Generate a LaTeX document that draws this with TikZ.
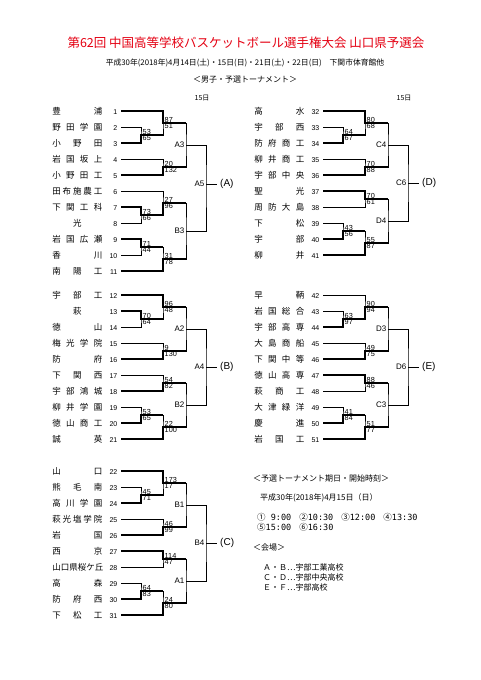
\documentclass[tikz,border=0pt]{standalone}
\usepackage{fontspec}
\setmainfont{Liberation Sans}
\newfontfamily\jp{Noto Sans CJK JP}
\newfontfamily\digits{DejaVu Sans Mono}
\usepackage{tikz}
\usetikzlibrary{positioning,calc}
\definecolor{titlered}{RGB}{228,0,18}

\newcommand{\tn}[2]{\makebox[50pt][s]{\jp\fontsize{8.5}{9}\selectfont #1}\makebox[15pt][r]{#2}}
\newcommand{\scores}[3]{\node[score, above right] (#1u) at (#1) {#2}; \node[score, below right] (#1d) at (#1) {#3};}

\begin{document}
\begin{tikzpicture}[
    x=1pt, y=-1pt,
    team/.style={anchor=east, inner xsep=3.5pt, inner ysep=0pt, font=\fontsize{7}{8}\selectfont},
    score/.style={inner xsep=1.5pt, inner ysep=0.6pt, font=\fontsize{7.3}{7}\selectfont},
    rnd/.style={left, inner xsep=1.5pt, inner ysep=0pt, font=\fontsize{8}{8}\selectfont},
    pool/.style={right, inner xsep=3pt, inner ysep=0pt, font=\fontsize{10}{10}\selectfont},
    note/.style={anchor=west, inner sep=0pt, font=\jp\fontsize{8}{9}\selectfont},
    line/.style={line width=0.8pt},
    win/.style={line width=2pt}
]
\useasboundingbox (0,0) rectangle (481,680);

% Heading
\node[font=\jp\fontsize{12.5}{14}\selectfont, text=titlered] (title) at (246,43) {第62回 中国高等学校バスケットボール選手権大会 山口県予選会};
\node[font=\jp\fontsize{7.8}{9}\selectfont] (dates) at (245,63) {平成30年(2018年)4月14日(土)・15日(日)・21日(土)・22日(日)　下関市体育館他};
\node[font=\jp\fontsize{8}{9}\selectfont] (sect) at (245,80) {＜男子・予選トーナメント＞};
\node[font=\jp\fontsize{7}{8}\selectfont] (dayL) at (202,98) {15日};
\node[font=\jp\fontsize{7}{8}\selectfont] (dayR) at (404,98) {15日};

% Teams, left
\node[team] (L1)  at (121,111) {\tn{豊 浦}{1}};
\node[team] (L2)  at (121,127) {\tn{野 田 学 園}{2}};
\node[team] (L3)  at (121,143) {\tn{小 野 田}{3}};
\node[team] (L4)  at (121,159) {\tn{岩 国 坂 上}{4}};
\node[team] (L5)  at (121,175) {\tn{小 野 田 工}{5}};
\node[team] (L6)  at (121,191) {\tn{田 布 施 農 工}{6}};
\node[team] (L7)  at (121,207) {\tn{下 関 工 科}{7}};
\node[team] (L8)  at (121,223) {\tn{\hfil 光\hfil}{8}};
\node[team] (L9)  at (121,239) {\tn{岩 国 広 瀬}{9}};
\node[team] (L10) at (121,255) {\tn{香 川}{10}};
\node[team] (L11) at (121,271) {\tn{南 陽 工}{11}};
\node[team] (L12) at (121,295) {\tn{宇 部 工}{12}};
\node[team] (L13) at (121,311) {\tn{\hfil 萩\hfil}{13}};
\node[team] (L14) at (121,327) {\tn{徳 山}{14}};
\node[team] (L15) at (121,343) {\tn{梅 光 学 院}{15}};
\node[team] (L16) at (121,359) {\tn{防 府}{16}};
\node[team] (L17) at (121,375) {\tn{下 関 西}{17}};
\node[team] (L18) at (121,391) {\tn{宇 部 鴻 城}{18}};
\node[team] (L19) at (121,407) {\tn{柳 井 学 園}{19}};
\node[team] (L20) at (121,423) {\tn{徳 山 商 工}{20}};
\node[team] (L21) at (121,439) {\tn{誠 英}{21}};
\node[team] (L22) at (121,471) {\tn{山 口}{22}};
\node[team] (L23) at (121,487) {\tn{熊 毛 南}{23}};
\node[team] (L24) at (121,503) {\tn{高 川 学 園}{24}};
\node[team] (L25) at (121,519) {\tn{萩 光 塩 学 院}{25}};
\node[team] (L26) at (121,535) {\tn{岩 国}{26}};
\node[team] (L27) at (121,551) {\tn{西 京}{27}};
\node[team] (L28) at (121,567) {\tn{山口県桜ケ丘}{28}};
\node[team] (L29) at (121,583) {\tn{高 森}{29}};
\node[team] (L30) at (121,599) {\tn{防 府 西}{30}};
\node[team] (L31) at (121,615) {\tn{下 松 工}{31}};

% Teams, right
\node[team] (R32) at (323,111) {\tn{高 水}{32}};
\node[team] (R33) at (323,127) {\tn{宇 部 西}{33}};
\node[team] (R34) at (323,143) {\tn{防 府 商 工}{34}};
\node[team] (R35) at (323,159) {\tn{柳 井 商 工}{35}};
\node[team] (R36) at (323,175) {\tn{宇 部 中 央}{36}};
\node[team] (R37) at (323,191) {\tn{聖 光}{37}};
\node[team] (R38) at (323,207) {\tn{周 防 大 島}{38}};
\node[team] (R39) at (323,223) {\tn{下 松}{39}};
\node[team] (R40) at (323,239) {\tn{宇 部}{40}};
\node[team] (R41) at (323,255) {\tn{柳 井}{41}};
\node[team] (R42) at (323,295) {\tn{早 鞆}{42}};
\node[team] (R43) at (323,311) {\tn{岩 国 総 合}{43}};
\node[team] (R44) at (323,327) {\tn{宇 部 高 専}{44}};
\node[team] (R45) at (323,343) {\tn{大 島 商 船}{45}};
\node[team] (R46) at (323,359) {\tn{下 関 中 等}{46}};
\node[team] (R47) at (323,375) {\tn{徳 山 高 専}{47}};
\node[team] (R48) at (323,391) {\tn{萩 商 工}{48}};
\node[team] (R49) at (323,407) {\tn{大 津 緑 洋}{49}};
\node[team] (R50) at (323,423) {\tn{慶 進}{50}};
\node[team] (R51) at (323,439) {\tn{岩 国 工}{51}};

% Bout points
\coordinate (m2)  at (141,135); \coordinate (m1)  at (163,123);
\coordinate (m4)  at (163,167); \coordinate (A3)  at (186,145);
\coordinate (m7)  at (141,215); \coordinate (m6)  at (163,203);
\coordinate (m9)  at (141,247); \coordinate (m11) at (163,259);
\coordinate (B3)  at (186,231); \coordinate (A5)  at (206,184);
\coordinate (m13) at (141,319); \coordinate (m12) at (163,307);
\coordinate (m15) at (163,351); \coordinate (A2)  at (186,329);
\coordinate (m17) at (163,383); \coordinate (m19) at (141,415);
\coordinate (m21) at (163,427); \coordinate (B2)  at (186,405);
\coordinate (A4)  at (206,367);
\coordinate (m23) at (141,495); \coordinate (m22) at (163,483);
\coordinate (m25) at (163,527); \coordinate (B1)  at (186,505);
\coordinate (m27) at (163,559); \coordinate (m29) at (141,591);
\coordinate (m31) at (163,603); \coordinate (A1)  at (186,581);
\coordinate (B4)  at (206,543);
\coordinate (n33) at (343,135); \coordinate (n32) at (365,123);
\coordinate (n35) at (365,167); \coordinate (C4)  at (388,145);
\coordinate (n37) at (365,199); \coordinate (n39) at (343,231);
\coordinate (n41) at (365,243); \coordinate (D4)  at (388,221);
\coordinate (C6)  at (408,183);
\coordinate (n43) at (343,319); \coordinate (n42) at (365,307);
\coordinate (n45) at (365,351); \coordinate (D3)  at (388,329);
\coordinate (n47) at (365,383); \coordinate (n49) at (343,415);
\coordinate (n51) at (365,427); \coordinate (C3)  at (388,405);
\coordinate (D6)  at (408,367);

% Pools
\node[pool] (pA) at (217,184) {(A)};
\node[pool] (pB) at (217,367) {(B)};
\node[pool] (pC) at (217,543) {(C)};
\node[pool] (pD) at (419,183) {(D)};
\node[pool] (pE) at (419,367) {(E)};

% Bracket lines
\draw[line] (L2.east) -| (m2) |- (L3.east);
\draw[line] (L1.east) -| (m1) |- (m2);
\draw[line] (L4.east) -| (m4) |- (L5.east);
\draw[line] (m1) -| (A3) |- (m4);
\draw[line] (L7.east) -| (m7) |- (L8.east);
\draw[line] (L6.east) -| (m6) |- (m7);
\draw[line] (L9.east) -| (m9) |- (L10.east);
\draw[line] (m9) -| (m11) |- (L11.east);
\draw[line] (m6) -| (B3) |- (m11);
\draw[line] (A3) -| (A5) |- (B3);
\draw[line] (A5) -- (pA);

\draw[line] (L13.east) -| (m13) |- (L14.east);
\draw[line] (L12.east) -| (m12) |- (m13);
\draw[line] (L15.east) -| (m15) |- (L16.east);
\draw[line] (m12) -| (A2) |- (m15);
\draw[line] (L17.east) -| (m17) |- (L18.east);
\draw[line] (L19.east) -| (m19) |- (L20.east);
\draw[line] (m19) -| (m21) |- (L21.east);
\draw[line] (m17) -| (B2) |- (m21);
\draw[line] (A2) -| (A4) |- (B2);
\draw[line] (A4) -- (pB);

\draw[line] (L23.east) -| (m23) |- (L24.east);
\draw[line] (L22.east) -| (m22) |- (m23);
\draw[line] (L25.east) -| (m25) |- (L26.east);
\draw[line] (m22) -| (B1) |- (m25);
\draw[line] (L27.east) -| (m27) |- (L28.east);
\draw[line] (L29.east) -| (m29) |- (L30.east);
\draw[line] (m29) -| (m31) |- (L31.east);
\draw[line] (m27) -| (A1) |- (m31);
\draw[line] (B1) -| (B4) |- (A1);
\draw[line] (B4) -- (pC);

\draw[line] (R33.east) -| (n33) |- (R34.east);
\draw[line] (R32.east) -| (n32) |- (n33);
\draw[line] (R35.east) -| (n35) |- (R36.east);
\draw[line] (n32) -| (C4) |- (n35);
\draw[line] (R37.east) -| (n37) |- (R38.east);
\draw[line] (R39.east) -| (n39) |- (R40.east);
\draw[line] (n39) -| (n41) |- (R41.east);
\draw[line] (n37) -| (D4) |- (n41);
\draw[line] (C4) -| (C6) |- (D4);
\draw[line] (C6) -- (pD);

\draw[line] (R43.east) -| (n43) |- (R44.east);
\draw[line] (R42.east) -| (n42) |- (n43);
\draw[line] (R45.east) -| (n45) |- (R46.east);
\draw[line] (n42) -| (D3) |- (n45);
\draw[line] (R47.east) -| (n47) |- (R48.east);
\draw[line] (R49.east) -| (n49) |- (R50.east);
\draw[line] (n49) -| (n51) |- (R51.east);
\draw[line] (n47) -| (C3) |- (n51);
\draw[line] (D3) -| (D6) |- (C3);
\draw[line] (D6) -- (pE);

% Winners (thick)
\draw[win] (L3.east) -| (m2) -- (m2 -| m1);
\draw[win] (L1.east) -| (m1) -- (m1 -| A3);
\draw[win] (L5.east) -| (m4) -- (m4 -| A3);
\draw[win] (L7.east) -| (m7) -- (m7 -| m6);
\draw[win] (m7) -| (m6) -- (m6 -| B3);
\draw[win] (L9.east) -| (m9) -- (m9 -| m11);
\draw[win] (L11.east) -| (m11) -- (m11 -| B3);

\draw[win] (L13.east) -| (m13) -- (m13 -| m12);
\draw[win] (L12.east) -| (m12) -- (m12 -| A2);
\draw[win] (L16.east) -| (m15) -- (m15 -| A2);
\draw[win] (L18.east) -| (m17) -- (m17 -| B2);
\draw[win] (L20.east) -| (m19) -- (m19 -| m21);
\draw[win] (L21.east) -| (m21) -- (m21 -| B2);

\draw[win] (L24.east) -| (m23) -- (m23 -| m22);
\draw[win] (L22.east) -| (m22) -- (m22 -| B1);
\draw[win] (L26.east) -| (m25) -- (m25 -| B1);
\draw[win] (L27.east) -| (m27) -- (m27 -| A1);
\draw[win] (L30.east) -| (m29) -- (m29 -| m31);
\draw[win] (L31.east) -| (m31) -- (m31 -| A1);

\draw[win] (R34.east) -| (n33) -- (n33 -| n32);
\draw[win] (R32.east) -| (n32) -- (n32 -| C4);
\draw[win] (R36.east) -| (n35) -- (n35 -| C4);
\draw[win] (R37.east) -| (n37) -- (n37 -| D4);
\draw[win] (R40.east) -| (n39) -- (n39 -| n41);
\draw[win] (R41.east) -| (n41) -- (n41 -| D4);

\draw[win] (R44.east) -| (n43) -- (n43 -| n42);
\draw[win] (n43) -| (n42) -- (n42 -| D3);
\draw[win] (R46.east) -| (n45) -- (n45 -| D3);
\draw[win] (R47.east) -| (n47) -- (n47 -| C3);
\draw[win] (R50.east) -| (n49) -- (n49 -| n51);
\draw[win] (R51.east) -| (n51) -- (n51 -| C3);

% Scores
\scores{m2}{53}{65} \scores{m1}{87}{51} \scores{m4}{20}{132}
\scores{m7}{73}{66} \scores{m6}{27}{96} \scores{m9}{71}{44} \scores{m11}{31}{78}
\scores{m13}{70}{64} \scores{m12}{96}{48} \scores{m15}{9}{130}
\scores{m17}{54}{82} \scores{m19}{53}{65} \scores{m21}{22}{100}
\scores{m23}{45}{71} \scores{m22}{173}{17} \scores{m25}{46}{99}
\scores{m27}{114}{47} \scores{m29}{64}{83} \scores{m31}{24}{80}
\scores{n33}{64}{67} \scores{n32}{80}{68} \scores{n35}{70}{88}
\scores{n37}{70}{61} \scores{n39}{43}{56} \scores{n41}{55}{87}
\scores{n43}{63}{97} \scores{n42}{90}{94} \scores{n45}{49}{75}
\scores{n47}{88}{46} \scores{n49}{41}{84} \scores{n51}{51}{77}

% Round labels
\node[rnd] (lA3) at (A3) {A3}; \node[rnd] (lB3) at (B3) {B3}; \node[rnd] (lA5) at (A5) {A5};
\node[rnd] (lA2) at (A2) {A2}; \node[rnd] (lB2) at (B2) {B2}; \node[rnd] (lA4) at (A4) {A4};
\node[rnd] (lB1) at (B1) {B1}; \node[rnd] (lA1) at (A1) {A1}; \node[rnd] (lB4) at (B4) {B4};
\node[rnd] (lC4) at (C4) {C4}; \node[rnd] (lD4) at (D4) {D4}; \node[rnd] (lC6) at (C6) {C6};
\node[rnd] (lD3) at (D3) {D3}; \node[rnd] (lC3) at (C3) {C3}; \node[rnd] (lD6) at (D6) {D6};

% Schedule and venues
\node[note] (sched) at (253,478) {＜予選トーナメント期日・開始時刻＞};
\node[note] (day)   at (260,498) {平成30年(2018年)4月15日（日）};
\node[note, font=\fontsize{8.5}{9}\selectfont] (tm1) at (257,517)
  {{\jp ①}\hspace{5.1pt}{\digits 9:00}\hspace{8pt}{\jp ②}{\digits 10:30}\hspace{8pt}{\jp ③}{\digits 12:00}\hspace{8pt}{\jp ④}{\digits 13:30}};
\node[note, font=\fontsize{8.5}{9}\selectfont] (tm2) at (257,527)
  {{\jp ⑤}{\digits 15:00}\hspace{8pt}{\jp ⑥}{\digits 16:30}};
\node[note] (venue) at (253,547) {＜会場＞};
\node[note] (v1) at (263,567) {Ａ・Ｂ…宇部工業高校};
\node[note] (v2) at (263,577) {Ｃ・Ｄ…宇部中央高校};
\node[note] (v3) at (263,587) {Ｅ・Ｆ…宇部高校};

\end{tikzpicture}
\end{document}
